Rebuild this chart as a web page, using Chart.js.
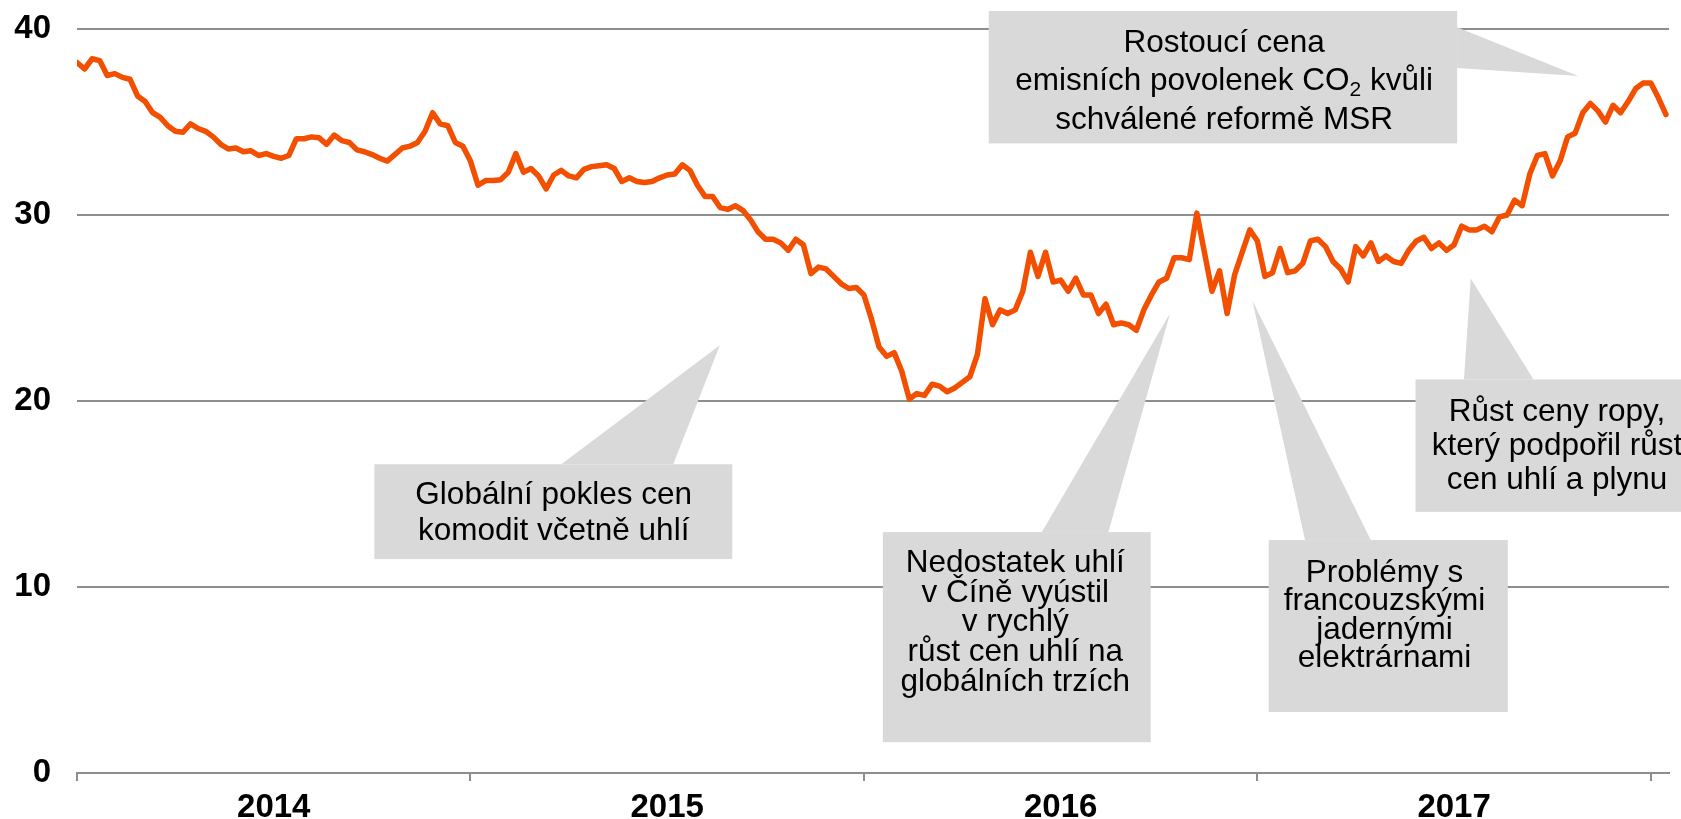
<!DOCTYPE html>
<html lang="cs">
<head>
<meta charset="utf-8">
<title>Vývoj ceny 2014–2017</title>
<script src="https://cdn.jsdelivr.net/npm/chart.js@4.4.1/dist/chart.umd.min.js"></script>
<style>
  html, body { margin: 0; padding: 0; background: #fff; }
  #obal { width: 1681px; height: 819px; position: relative; }
</style>
</head>
<body>
<div id="obal"><canvas id="graf"></canvas></div>
<script>
// Týdenní hodnoty (jeden bod = jeden týden)
const cena2014 = [38.2, 37.85, 38.4, 38.3, 37.5, 37.6, 37.4, 37.3, 36.4, 36.1, 35.5, 35.25, 34.8,
  34.5, 34.45, 34.9, 34.65, 34.5, 34.2, 33.8, 33.55, 33.6, 33.4, 33.45, 33.2, 33.3,
  33.15, 33.05, 33.2, 34.1, 34.1, 34.2, 34.15, 33.8, 34.3, 34.0, 33.9, 33.5, 33.4,
  33.25, 33.05, 32.9, 33.25, 33.6, 33.7, 33.9, 34.5, 35.5, 34.9, 34.8, 33.9, 33.7]
const cena2015 = [32.9, 31.6, 31.85, 31.85, 31.9, 32.3, 33.3, 32.3, 32.5, 32.1, 31.4, 32.15, 32.4,
  32.1, 32.0, 32.45, 32.6, 32.65, 32.7, 32.5, 31.8, 32.0, 31.8, 31.75, 31.8, 32.0,
  32.15, 32.2, 32.7, 32.4, 31.6, 31.0, 31.0, 30.4, 30.3, 30.5, 30.25, 29.75, 29.1,
  28.7, 28.7, 28.5, 28.1, 28.7, 28.4, 26.85, 27.2, 27.1, 26.7, 26.3, 26.05, 26.1]
const cena2016 = [25.7, 24.4, 22.9, 22.4, 22.6, 21.6, 20.1, 20.4, 20.3, 20.9, 20.8, 20.5, 20.7,
  21.0, 21.3, 22.5, 25.5, 24.1, 24.9, 24.7, 24.9, 25.9, 28.0, 26.7, 28.0, 26.4,
  26.5, 25.9, 26.6, 25.7, 25.7, 24.7, 25.2, 24.1, 24.2, 24.1, 23.8, 24.9, 25.7,
  26.4, 26.6, 27.7, 27.7, 27.6, 30.1, 28.0, 25.9, 27.0, 24.7, 26.8, 28.0, 29.2]
const cena2017 = [28.6, 26.7, 26.9, 28.2, 26.9, 27.0, 27.4, 28.6, 28.7, 28.3, 27.5, 27.1, 26.4,
  28.3, 27.8, 28.5, 27.5, 27.8, 27.5, 27.4, 28.1, 28.6, 28.8, 28.2, 28.5, 28.1,
  28.4, 29.4, 29.2, 29.2, 29.4, 29.1, 29.9, 30.0, 30.8, 30.5, 32.2, 33.2, 33.3,
  32.1, 32.9, 34.2, 34.4, 35.5, 36.0, 35.6, 35.0, 35.9, 35.5, 36.1, 36.8, 37.1,
  37.1, 36.3, 35.4]

const roky = ['2014', '2015', '2016', '2017']
const tydnuNaRok = 52
const hodnotyY = [0, 10, 20, 30, 40]

// Texty popisků
const textMSR = ['Rostoucí cena', 'emisních povolenek CO₂ kvůli', 'schválené reformě MSR']
const textKomodity = ['Globální pokles cen', 'komodit včetně uhlí']
const textCina = ['Nedostatek uhlí', 'v Číně vyústil', 'v rychlý', 'růst cen uhlí na', 'globálních trzích']
const textFrancie = ['Problémy s', 'francouzskými', 'jadernými', 'elektrárnami']
const textRopa = ['Růst ceny ropy,', 'který podpořil růst', 'cen uhlí a plynu']

// ---------- styly ----------
const ORANZOVA = '#f24f00'
const MRIZKA = '#8e8e8e'
const SEDA = '#d9d9d9'
const PISMO = "'Liberation Sans', Arial, sans-serif"
const FONT_POPISEK = `31.5px ${PISMO}`
const FONT_INDEX = `21px ${PISMO}`

const cena = [...cena2014, ...cena2015, ...cena2016, ...cena2017]

// Popisky: box [týden od, týden do, hodnota nahoře, hodnota dole], klín jako body v jednotkách os,
// text: střed v týdnech, první řádek a rozestup v px od horní hrany boxu
const bubliny = [
  { box: [120.5, 182.4, 40.97, 33.85], klin: [[182.4, 40.1], [198.4, 37.47], [182.4, 37.9]],
    stred: 151.6, prvni: 32, radek: 38.5, text: textMSR },
  { box: [39.3, 86.6, 16.6, 11.5], klin: [[64.0, 16.6], [84.96, 23.0], [78.8, 16.6]],
    stred: 63.0, prvni: 31, radek: 36, text: textKomodity },
  { box: [106.5, 141.9, 12.95, 1.66], klin: [[127.5, 12.95], [144.45, 24.71], [136.3, 12.95]],
    stred: 124.0, prvni: 31.3, radek: 29.6, text: textCina },
  { box: [157.5, 189.1, 12.52, 3.28], klin: [[162.3, 12.52], [155.35, 25.39], [171.0, 12.52]],
    stred: 172.8, prvni: 33.3, radek: 28.3, text: textFrancie },
  { box: [176.9, 214.2, 21.16, 14.04], klin: [[183.3, 21.16], [184.2, 26.59], [192.5, 21.16]],
    stred: 195.6, prvni: 32.4, radek: 34.3, text: textRopa }
]

// Řádek textu, '₂' se kreslí jako dolní index
function vypisRadek(ctx, radek, cx, cy) {
  const casti = radek.split('₂')
  if (casti.length === 1) {
    ctx.textAlign = 'center'
    ctx.fillText(radek, cx, cy)
    return
  }
  ctx.textAlign = 'left'
  const w0 = ctx.measureText(casti[0]).width
  const w1 = ctx.measureText(casti[1]).width
  ctx.font = FONT_INDEX
  const wi = ctx.measureText('2').width
  ctx.font = FONT_POPISEK
  let px = cx - (w0 + wi + w1) / 2
  ctx.fillText(casti[0], px, cy)
  px += w0
  ctx.font = FONT_INDEX
  ctx.fillText('2', px, cy + 9)
  px += wi
  ctx.font = FONT_POPISEK
  ctx.fillText(casti[1], px, cy)
}

const bublinyPlugin = {
  id: 'bubliny',
  beforeDatasetsDraw(chart) {
    const { ctx, scales: { x, y } } = chart
    ctx.save()
    bubliny.forEach(b => {
      const x0 = x.getPixelForValue(b.box[0])
      const x1 = x.getPixelForValue(b.box[1])
      const y0 = y.getPixelForValue(b.box[2])
      const y1 = y.getPixelForValue(b.box[3])
      ctx.fillStyle = SEDA
      ctx.fillRect(x0, y0, x1 - x0, y1 - y0)
      ctx.beginPath()
      b.klin.forEach(([kx, ky], i) => {
        const px = x.getPixelForValue(kx)
        const py = y.getPixelForValue(ky)
        if (i === 0) ctx.moveTo(px, py)
        else ctx.lineTo(px, py)
      })
      ctx.closePath()
      ctx.fill()

      ctx.fillStyle = '#000'
      ctx.font = FONT_POPISEK
      ctx.textBaseline = 'middle'
      const cx = x.getPixelForValue(b.stred)
      b.text.forEach((radek, i) => vypisRadek(ctx, radek, cx, y0 + b.prvni + i * b.radek))
    })
    ctx.restore()
  }
}

new Chart(document.getElementById('graf'), {
  type: 'line',
  data: {
    datasets: [{
      data: cena.map((v, i) => ({ x: i, y: v })),
      borderColor: ORANZOVA,
      borderWidth: 5.5,
      borderJoinStyle: 'round',
      borderCapStyle: 'round',
      pointRadius: 0,
      tension: 0
    }]
  },
  options: {
    responsive: true,
    maintainAspectRatio: false,
    animation: false,
    layout: { padding: { top: 29, right: 12, left: 0, bottom: 0 } },
    plugins: { legend: { display: false }, tooltip: { enabled: false } },
    scales: {
      x: {
        type: 'linear',
        min: 0,
        max: 210.4,
        // popisky roků uprostřed roku, čárky na hranicích roků (grid.offset)
        afterBuildTicks: osa => {
          osa.ticks = [...roky, ''].map((r, i) => ({ value: tydnuNaRok * (i + 0.5) }))
        },
        afterFit: osa => {
          osa.height = 46
          osa.paddingLeft = 0
          osa.paddingRight = 0
        },
        grid: { offset: true, drawOnChartArea: false, color: MRIZKA, lineWidth: 2, tickLength: 8 },
        border: { color: MRIZKA, width: 2 },
        ticks: {
          autoSkip: false,
          maxRotation: 0,
          padding: 7,
          color: '#000',
          font: { family: PISMO, size: 33, weight: 'bold' },
          callback: (v, i) => roky[i] || ''
        }
      },
      y: {
        min: hodnotyY[0],
        max: hodnotyY[hodnotyY.length - 1],
        afterFit: osa => {
          osa.width = 77
          osa.paddingTop = 0
          osa.paddingBottom = 0
        },
        afterBuildTicks: osa => { osa.ticks = hodnotyY.map(v => ({ value: v })) },
        grid: { color: MRIZKA, lineWidth: 2, drawTicks: false },
        border: { display: false },
        ticks: {
          padding: 26,
          color: '#000',
          font: { family: PISMO, size: 33, weight: 'bold' }
        }
      }
    }
  },
  plugins: [bublinyPlugin]
})
</script>
</body>
</html>
